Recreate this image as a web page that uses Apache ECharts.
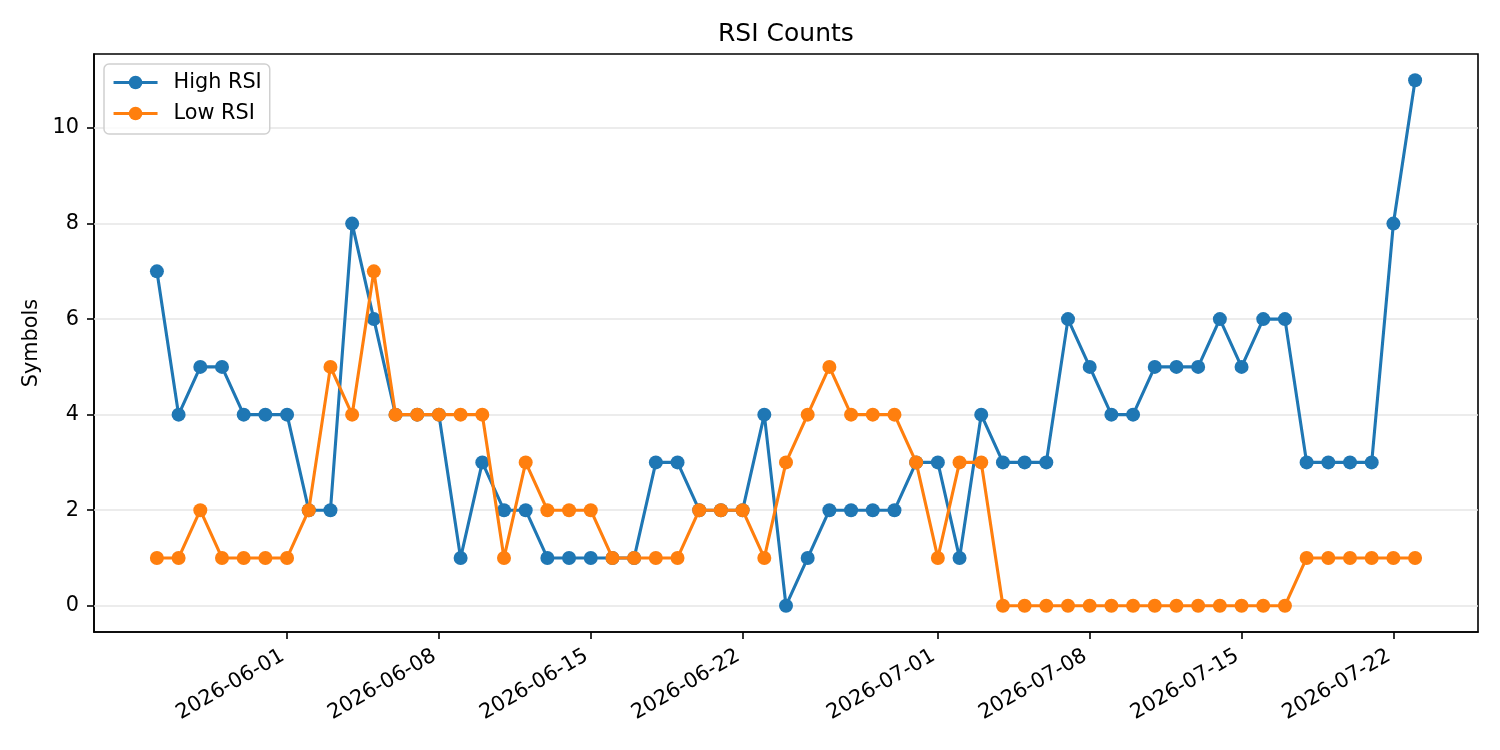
<!DOCTYPE html>
<html>
<head>
<meta charset="utf-8">
<script src="https://cdn.jsdelivr.net/npm/echarts@6/dist/echarts.min.js"></script>
<style>
  html, body { margin: 0; padding: 0; background: #fff; }
  #chart { width: 1500px; height: 750px; }
</style>
</head>
<body>
<div id="chart"></div>
<script>
const dates = [
  '2026-05-26','2026-05-27','2026-05-28','2026-05-29','2026-05-30','2026-05-31',
  '2026-06-01','2026-06-02','2026-06-03','2026-06-04','2026-06-05','2026-06-06','2026-06-07',
  '2026-06-08','2026-06-09','2026-06-10','2026-06-11','2026-06-12','2026-06-13','2026-06-14',
  '2026-06-15','2026-06-16','2026-06-17','2026-06-18','2026-06-19','2026-06-20','2026-06-21',
  '2026-06-22','2026-06-23','2026-06-24','2026-06-25','2026-06-26','2026-06-27','2026-06-28',
  '2026-06-29','2026-06-30','2026-07-01','2026-07-02','2026-07-03','2026-07-04','2026-07-05',
  '2026-07-06','2026-07-07','2026-07-08','2026-07-09','2026-07-10','2026-07-11','2026-07-12',
  '2026-07-13','2026-07-14','2026-07-15','2026-07-16','2026-07-17','2026-07-18','2026-07-19',
  '2026-07-20','2026-07-21','2026-07-22','2026-07-23'
];
const highRSI = [
  7,4,5,5,4,4,
  4,2,2,8,6,4,4,
  4,1,3,2,2,1,1,
  1,1,1,3,3,2,2,
  2,4,0,1,2,2,2,
  2,3,3,1,4,3,3,
  3,6,5,4,4,5,5,
  5,6,5,6,6,3,3,
  3,3,8,11
];
const lowRSI = [
  1,1,2,1,1,1,
  1,2,5,4,7,4,4,
  4,4,4,1,3,2,2,
  2,1,1,1,1,2,2,
  2,1,3,4,5,4,4,
  4,3,1,3,3,0,0,
  0,0,0,0,0,0,0,
  0,0,0,0,0,1,1,
  1,1,1,1
];
const xTickLabels = ['2026-06-01','2026-06-08','2026-06-15','2026-06-22','2026-07-01','2026-07-08','2026-07-15','2026-07-22'];
const yTickValues = [0, 2, 4, 6, 8, 10];

// day number (UTC-based, timezone independent)
function dayNum(s) {
  const p = s.split('-').map(Number);
  return Date.UTC(p[0], p[1] - 1, p[2]) / 86400000;
}
function fmt(v) {
  const d = new Date(Math.round(v) * 86400000);
  const mm = String(d.getUTCMonth() + 1).padStart(2, '0');
  const dd = String(d.getUTCDate()).padStart(2, '0');
  return d.getUTCFullYear() + '-' + mm + '-' + dd;
}
const t0 = dayNum(dates[0]);
const t1 = dayNum(dates[dates.length - 1]);
const xPad = (t1 - t0) * 0.05;
const allVals = highRSI.concat(lowRSI);
const yMinD = Math.min.apply(null, allVals), yMaxD = Math.max.apply(null, allVals);
const yPad = (yMaxD - yMinD) * 0.05;
const xTickValues = xTickLabels.map(dayNum);

const FONT = 'DejaVu Sans';
const FS = 20.8;

const chart = echarts.init(document.getElementById('chart'), null, { renderer: 'canvas' });
chart.setOption({
  animation: false,
  backgroundColor: '#ffffff',
  title: {
    text: 'RSI Counts',
    left: 718,
    top: 22,
    padding: 0,
    textStyle: { fontFamily: FONT, fontSize: 25, fontWeight: 'normal', color: '#000' }
  },
  legend: {
    orient: 'vertical',
    left: 104,
    top: 64,
    padding: [8, 8, 10, 8],
    itemWidth: 44,
    itemHeight: 17,
    itemGap: 10,
    backgroundColor: 'rgba(255,255,255,0.8)',
    borderColor: '#d0d0d0',
    borderWidth: 1.5,
    borderRadius: 5,
    lineStyle: { width: 3.1 },
    textStyle: { fontFamily: FONT, fontSize: FS, color: '#000', lineHeight: 21, padding: [0, 0, 0, 11] },
    data: ['High RSI', 'Low RSI']
  },
  grid: {
    left: 94, right: 22, top: 54, bottom: 118,
    show: true, borderColor: '#000', borderWidth: 1.6, backgroundColor: 'transparent'
  },
  xAxis: {
    type: 'value',
    min: t0 - xPad,
    max: t1 + xPad,
    axisLine: { show: true, onZero: false, lineStyle: { color: '#000', width: 1.6 } },
    axisTick: { show: true, length: 7, lineStyle: { color: '#000', width: 1.6 }, customValues: xTickValues },
    axisLabel: {
      customValues: xTickValues,
      formatter: function (v) { return fmt(v); },
      rotate: 30,
      margin: 20,
      padding: [0, 5, 0, 0],
      fontFamily: FONT, fontSize: FS, color: '#000',
      hideOverlap: false
    },
    splitLine: { show: false }
  },
  yAxis: {
    type: 'value',
    min: yMinD - yPad,
    max: yMaxD + yPad,
    name: 'Symbols',
    nameLocation: 'middle',
    nameGap: 49,
    nameTextStyle: { fontFamily: FONT, fontSize: FS, color: '#000' },
    axisLine: { show: true, onZero: false, lineStyle: { color: '#000', width: 1.6 } },
    axisTick: { show: true, length: 7, lineStyle: { color: '#000', width: 1.6 }, customValues: yTickValues },
    axisLabel: {
      customValues: yTickValues,
      margin: 15,
      padding: [4, 0, 0, 0],
      fontFamily: FONT, fontSize: FS, color: '#000'
    },
    splitLine: { show: false }
  },
  series: [
    {
      name: 'gridlines',
      type: 'line',
      data: [],
      silent: true,
      z: 1,
      markLine: {
        silent: true,
        symbol: ['none', 'none'],
        label: { show: false },
        lineStyle: { color: '#e6e6e6', width: 1.6, type: 'solid' },
        emphasis: { disabled: true },
        animation: false,
        z: 1,
        data: yTickValues.map(function (v) { return { yAxis: v }; })
      }
    },
    {
      name: 'High RSI',
      type: 'line',
      z: 3,
      data: dates.map(function (d, i) { return [dayNum(d), highRSI[i]]; }),
      symbol: 'circle',
      symbolSize: 14,
      showAllSymbol: true,
      color: '#1f77b4',
      lineStyle: { color: '#1f77b4', width: 3.1 },
      itemStyle: { color: '#1f77b4' },
      emphasis: { disabled: true }
    },
    {
      name: 'Low RSI',
      type: 'line',
      z: 4,
      data: dates.map(function (d, i) { return [dayNum(d), lowRSI[i]]; }),
      symbol: 'circle',
      symbolSize: 14,
      showAllSymbol: true,
      color: '#ff7f0e',
      lineStyle: { color: '#ff7f0e', width: 3.1 },
      itemStyle: { color: '#ff7f0e' },
      emphasis: { disabled: true }
    }
  ]
});
</script>
</body>
</html>
